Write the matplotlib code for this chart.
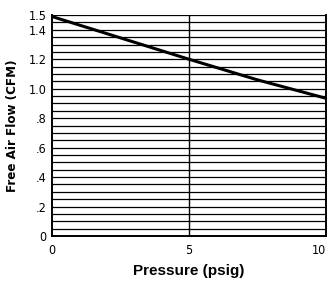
import matplotlib
matplotlib.use("Agg")
import matplotlib.pyplot as plt
import numpy as np

# data
pressure = [0, 2.5, 5, 7.5, 10]
flow = [1.49, 1.345, 1.2, 1.06, 0.935]
y_ticks = [0, 0.2, 0.4, 0.6, 0.8, 1.0, 1.2, 1.4, 1.5]
y_labels = ["0", ".2", ".4", ".6", ".8", "1.0", "1.2", "1.4", "1.5"]
x_ticks = [0, 5, 10]
x_labels = ["0", "5", "10"]

fig = plt.figure(figsize=(3.32, 2.85), dpi=100)
ax = fig.add_axes([0.157, 0.172, 0.825, 0.775])

# horizontal rulings every 0.05
for y in np.arange(0.05, 1.5001, 0.05):
    ax.axhline(y, color="black", lw=0.9, zorder=1)
ax.axvline(5, color="black", lw=1.0, zorder=1)

ax.plot(pressure, flow, color="black", lw=2.2, zorder=3)

ax.set_xlim(0, 10)
ax.set_ylim(0, 1.5)
ax.set_xticks(x_ticks)
ax.set_xticklabels(x_labels, family="DejaVu Sans", fontstretch="condensed", fontsize=9)
ax.set_yticks(y_ticks)
ax.set_yticklabels(y_labels, family="DejaVu Sans", fontstretch="condensed", fontsize=9)
ax.tick_params(length=0, pad=4)
ax.tick_params(axis="x", pad=6)
ax.get_xticklabels()[-1].set_horizontalalignment("right")

for s in ["left", "bottom", "right"]:
    ax.spines[s].set_linewidth(1.4)
ax.spines["top"].set_visible(False)

ax.set_xlabel("Pressure (psig)", fontsize=11, fontweight="bold",
              family=["Liberation Sans", "DejaVu Sans"], labelpad=5)
ax.set_ylabel("Free Air Flow (CFM)", fontsize=9.5, fontweight="bold",
              family="DejaVu Sans", fontstretch="condensed", labelpad=7)

fig.savefig("out.png", dpi=100)
